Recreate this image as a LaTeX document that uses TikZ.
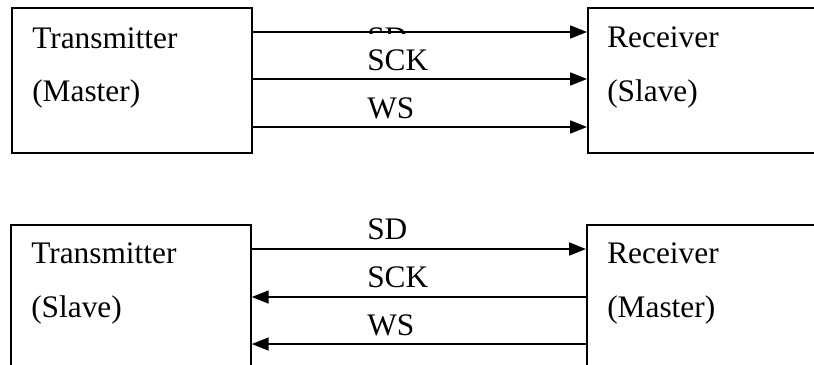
\documentclass[tikz,border=0pt]{standalone}
\usepackage{fontspec}
\setmainfont{Liberation Serif}
\usetikzlibrary{
    arrows.meta,
    calc
}

\begin{document}
\begin{tikzpicture}[
    x=0.025cm, y=-0.025cm,
    devbox/.style  = {rectangle, draw, line width=1.2pt, inner sep=0pt,
                      minimum width=6cm, minimum height=3.625cm,
                      anchor=north west},
    widebox/.style = {devbox, minimum width=7cm},
    boxtext/.style = {anchor=base west, inner sep=0pt,
                      font=\fontsize{22.3}{26}\selectfont},
    sigtext/.style = {boxtext, fill=white, text height=0.9cm},
    sig/.style     = {line width=1.4pt,
                      -{Triangle[length=0.42cm, width=0.32cm]}},
]
    \useasboundingbox (0,0) rectangle (814,364);
    \clip (0,0) rectangle (814,364);

    %Boxes
    \node[devbox]  (txmaster) at (11,7)    {};
    \node[widebox] (rxslave)  at (587,7)   {};
    \node[devbox]  (txslave)  at (10,224)  {};
    \node[widebox] (rxmaster) at (586,224) {};

    %Box texts
    \node[boxtext] (txmastername) at ($(txmaster.north west)+(21,41)$) {Transmitter};
    \node[boxtext] (txmasterrole) at ($(txmaster.north west)+(21,94)$) {(Master)};
    \node[boxtext] (rxslavename)  at ($(rxslave.north west)+(20,40)$)  {Receiver};
    \node[boxtext] (rxslaverole)  at ($(rxslave.north west)+(20,94)$)  {(Slave)};
    \node[boxtext] (txslavename)  at ($(txslave.north west)+(21,39)$)  {Transmitter};
    \node[boxtext] (txslaverole)  at ($(txslave.north west)+(21,93)$)  {(Slave)};
    \node[boxtext] (rxmastername) at ($(rxmaster.north west)+(21,39)$) {Receiver};
    \node[boxtext] (rxmasterrole) at ($(rxmaster.north west)+(21,93)$) {(Master)};

    %Signal names
    \node[sigtext] (sdtop)   at (367,48)  {SD};
    \node[sigtext] (scktop)  at (367,70)  {SCK};
    \node[sigtext] (wstop)   at (367,118) {WS};
    \node[sigtext] (sdbot)   at (367,239) {SD};
    \node[sigtext] (sckbot)  at (367,287) {SCK};
    \node[sigtext] (wsbot)   at (367,335) {WS};

    %Lines
    \draw[sig] ($(txmaster.north east)+(0,25)$)  -- ($(rxslave.north west)+(0,25)$);
    \draw[sig] ($(txmaster.north east)+(0,72)$)  -- ($(rxslave.north west)+(0,72)$);
    \draw[sig] ($(txmaster.north east)+(0,120)$) -- ($(rxslave.north west)+(0,120)$);
    \draw[sig] ($(txslave.north east)+(0,25)$)   -- ($(rxmaster.north west)+(0,25)$);
    \draw[sig] ($(rxmaster.north west)+(0,73)$)  -- ($(txslave.north east)+(0,73)$);
    \draw[sig] ($(rxmaster.north west)+(0,120)$) -- ($(txslave.north east)+(0,120)$);
\end{tikzpicture}
\end{document}
